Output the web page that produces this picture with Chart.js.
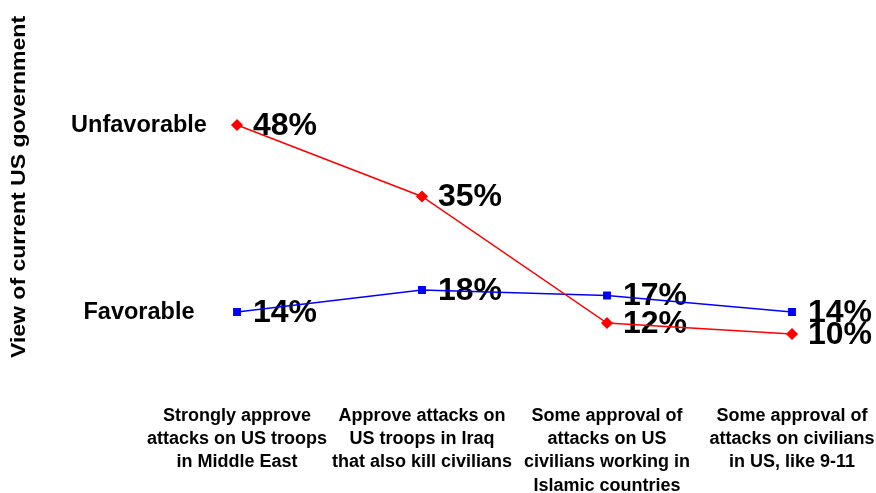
<!DOCTYPE html>
<html>
<head>
<meta charset="utf-8">
<script src="https://cdn.jsdelivr.net/npm/chart.js@4/dist/chart.umd.min.js"></script>
<style>
  html, body { margin: 0; padding: 0; background: #fff; }
  #wrap { width: 876px; height: 493px; position: relative; }
</style>
</head>
<body>
<div id="wrap"><canvas id="c"></canvas></div>
<script>
'use strict';

// 카테고리 / 시리즈 데이터
const categories = [
  ['Strongly approve', 'attacks on US troops', 'in Middle East'],
  ['Approve attacks on', 'US troops in Iraq', 'that also kill civilians'],
  ['Some approval of', 'attacks on US', 'civilians working in', 'Islamic countries'],
  ['Some approval of', 'attacks on civilians', 'in US, like 9-11'],
];
const unfavorable = [48, 35, 12, 10];
const favorable   = [14, 18, 17, 14];
const seriesNames = ['Unfavorable', 'Favorable'];
const yTitle = 'View of current US government';

const FAMILY = '"Liberation Sans", Arial, sans-serif';

// 값 라벨, 시리즈 이름, 세로 제목을 그리는 플러그인
const labelPlugin = {
  id: 'labels',
  beforeDatasetsDraw(chart) {
    const ctx = chart.ctx;
    ctx.save();
    ctx.fillStyle = '#000';
    ctx.textBaseline = 'middle';

    // 값 라벨
    ctx.font = 'bold 32px ' + FAMILY;
    ctx.textAlign = 'left';
    chart.data.datasets.forEach((ds, i) => {
      const meta = chart.getDatasetMeta(i);
      meta.data.forEach((pt, j) => {
        ctx.fillText(ds.data[j] + '%', pt.x + 16, pt.y + 1);
      });
    });

    // 시리즈 이름 (첫 점 높이)
    ctx.font = 'bold 23.5px ' + FAMILY;
    ctx.textAlign = 'center';
    chart.data.datasets.forEach((ds, i) => {
      const pt = chart.getDatasetMeta(i).data[0];
      ctx.fillText(ds.label, 139, pt.y + 1);
    });

    // 세로 축 제목
    ctx.font = 'bold 20px ' + FAMILY;
    ctx.translate(19, 187);
    ctx.rotate(-Math.PI / 2);
    ctx.scale(1.15, 1);
    ctx.fillText(yTitle, 0, 0);
    ctx.restore();
  },
};

new Chart(document.getElementById('c'), {
  type: 'line',
  data: {
    labels: categories,
    datasets: [
      {
        label: seriesNames[0],
        data: unfavorable,
        borderColor: '#FF0000',
        backgroundColor: '#FF0000',
        borderWidth: 1.5,
        pointStyle: 'rectRot',
        pointRadius: 5,
        tension: 0,
      },
      {
        label: seriesNames[1],
        data: favorable,
        borderColor: '#0000FF',
        backgroundColor: '#0000FF',
        borderWidth: 1.5,
        pointStyle: 'rect',
        pointRadius: 4.5,
        tension: 0,
      },
    ],
  },
  options: {
    responsive: true,
    maintainAspectRatio: false,
    animation: false,
    layout: { padding: { left: 237, right: 84, top: 59, bottom: 0 } },
    plugins: {
      legend: { display: false },
      tooltip: { enabled: false },
    },
    scales: {
      x: {
        offset: false,
        grid: { display: false },
        border: { display: false },
        afterFit(scale) {
          scale.height = 104;
          scale.paddingLeft = 0;
          scale.paddingRight = 0;
        },
        ticks: {
          autoSkip: false,
          maxRotation: 0,
          minRotation: 0,
          padding: 7,
          color: '#000',
          font: { family: FAMILY, size: 18, weight: 'bold', lineHeight: 1.3 },
        },
      },
      y: {
        display: false,
        min: 0,
        max: 60,
      },
    },
  },
  plugins: [labelPlugin],
});
</script>
</body>
</html>
